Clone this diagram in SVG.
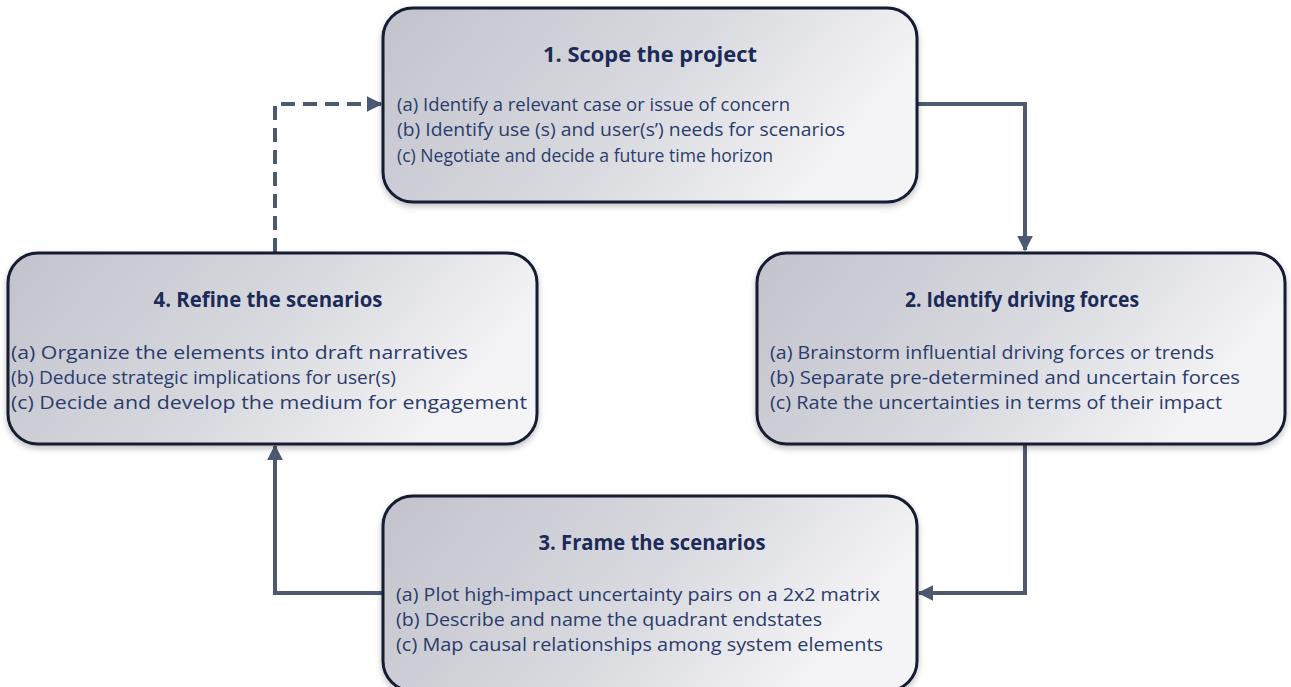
<svg xmlns="http://www.w3.org/2000/svg" width="1291" height="687" viewBox="0 0 1291 687">
<defs>
<linearGradient id="boxfill" x1="0" y1="0" x2="1" y2="0.3">
<stop offset="0" stop-color="#c1c2cb"/>
<stop offset="0.6" stop-color="#dadbe0"/>
<stop offset="1" stop-color="#f4f4f6"/>
</linearGradient>
<filter id="shade" x="-5%" y="-5%" width="110%" height="115%">
<feGaussianBlur in="SourceAlpha" stdDeviation="3"/>
<feOffset dx="0" dy="3" result="b"/>
<feFlood flood-color="#000" flood-opacity="0.25"/>
<feComposite in2="b" operator="in"/>
<feMerge><feMergeNode/><feMergeNode in="SourceGraphic"/></feMerge>
</filter>
<marker id="arr" viewBox="0 0 10 10" refX="9" refY="5" markerWidth="4" markerHeight="4" orient="auto" markerUnits="strokeWidth">
<path d="M0,0 L10,5 L0,10 z" fill="#4b5a70"/>
</marker>
</defs>
<style>
.box{fill:url(#boxfill);stroke:#121a33;stroke-width:3}
.title{font-family:"Open Sans","Liberation Sans",sans-serif;font-weight:bold;font-size:21px;fill:#1b2a57;text-anchor:middle}
.body{font-family:"Open Sans","Liberation Sans",sans-serif;font-size:19px;fill:#2b3b6b}
.conn{fill:none;stroke:#4b5a70;stroke-width:4}
.dash{stroke-dasharray:14,8}
</style>
<rect width="1291" height="687" fill="#ffffff"/>
<g id="connectors">
<path class="conn" d="M917,104 H1025 V250" marker-end="url(#arr)"/>
<path class="conn" d="M1025,444 V593 H919" marker-end="url(#arr)"/>
<path class="conn" d="M384,593 H275 V446" marker-end="url(#arr)"/>
<path class="conn dash" d="M275,252 V104 H381" marker-end="url(#arr)"/>
</g>
<g id="node1">
<rect class="box" x="383" y="8" width="534" height="194" rx="30" filter="url(#shade)"/>
<text class="title" x="650" y="62" textLength="214" lengthAdjust="spacingAndGlyphs">1. Scope the project</text>
<text class="body" x="397" y="111" textLength="393" lengthAdjust="spacingAndGlyphs">(a) Identify a relevant case or issue of concern</text>
<text class="body" x="397" y="136" textLength="448" lengthAdjust="spacingAndGlyphs">(b) Identify use (s) and user(s’) needs for scenarios</text>
<text class="body" x="397" y="162" textLength="376" lengthAdjust="spacingAndGlyphs">(c) Negotiate and decide a future time horizon</text>
</g>
<g id="node2">
<rect class="box" x="757" y="253" width="528" height="191" rx="30" filter="url(#shade)"/>
<text class="title" x="1022" y="307" textLength="234" lengthAdjust="spacingAndGlyphs">2. Identify driving forces</text>
<text class="body" x="770" y="359" textLength="444" lengthAdjust="spacingAndGlyphs">(a) Brainstorm influential driving forces or trends</text>
<text class="body" x="770" y="384" textLength="470" lengthAdjust="spacingAndGlyphs">(b) Separate pre-determined and uncertain forces</text>
<text class="body" x="770" y="409" textLength="452" lengthAdjust="spacingAndGlyphs">(c) Rate the uncertainties in terms of their impact</text>
</g>
<g id="node3">
<rect class="box" x="383" y="496" width="534" height="195" rx="30" filter="url(#shade)"/>
<text class="title" x="652" y="550" textLength="227" lengthAdjust="spacingAndGlyphs">3. Frame the scenarios</text>
<text class="body" x="396" y="601" textLength="484" lengthAdjust="spacingAndGlyphs">(a) Plot high-impact uncertainty pairs on a 2x2 matrix</text>
<text class="body" x="396" y="626" textLength="426" lengthAdjust="spacingAndGlyphs">(b) Describe and name the quadrant endstates</text>
<text class="body" x="396" y="651" textLength="487" lengthAdjust="spacingAndGlyphs">(c) Map causal relationships among system elements</text>
</g>
<g id="node4">
<rect class="box" x="8" y="253" width="529" height="191" rx="30" filter="url(#shade)"/>
<text class="title" x="268" y="307" textLength="229" lengthAdjust="spacingAndGlyphs">4. Refine the scenarios</text>
<text class="body" x="11" y="359" textLength="457" lengthAdjust="spacingAndGlyphs">(a) Organize the elements into draft narratives</text>
<text class="body" x="11" y="384" textLength="385" lengthAdjust="spacingAndGlyphs">(b) Deduce strategic implications for user(s)</text>
<text class="body" x="11" y="409" textLength="516" lengthAdjust="spacingAndGlyphs">(c) Decide and develop the medium for engagement</text>
</g>
</svg>
